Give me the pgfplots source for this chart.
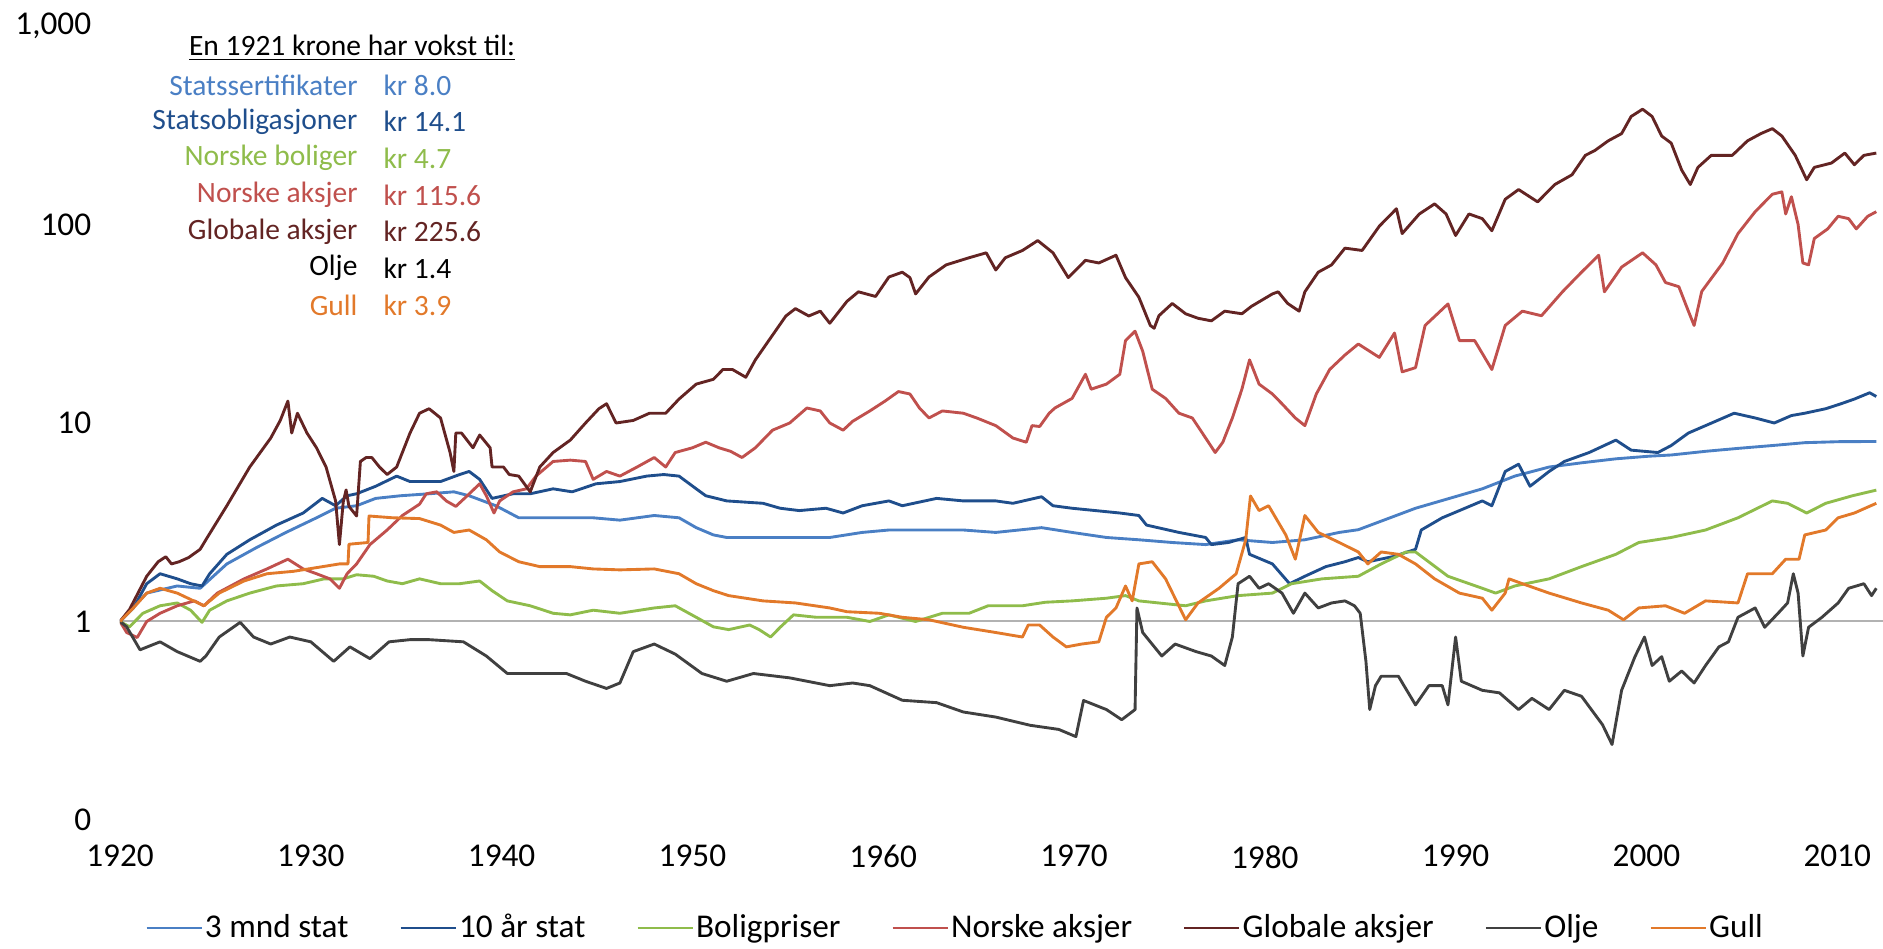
\documentclass[border=0pt]{standalone}
\usepackage{pgfplots}
\pgfplotsset{compat=1.18}
\usepackage{fontspec}
\setmainfont{Carlito}
\definecolor{cmnd}{HTML}{4A7FC4}
\definecolor{cobl}{HTML}{1F4E8C}
\definecolor{cbol}{HTML}{8FBC4B}
\definecolor{cnor}{HTML}{C0504D}
\definecolor{cglo}{HTML}{632423}
\definecolor{colj}{HTML}{404040}
\definecolor{cgul}{HTML}{E2792A}
\begin{document}
\begin{tikzpicture}
\begin{axis}[
  at={(0,0)}, anchor=south west,
  scale only axis, width=705.2pt, height=317.6pt,
  xmin=1920, xmax=2012.4, ymin=0.1, ymax=1000, ymode=log,
  axis line style={draw=none}, tick style={draw=none},
  xtick={1920,1930,1940,1950,1960,1970,1980,1990,2000,2010},
  xticklabels={1920,1930,1940,1950,1960,1970,1980,1990,2000,2010},
  ytick={0.1,1,10,100,1000},
  yticklabels={0,1,10,100,{1,000}},
  /pgf/number format/assume math mode=true,
  ticklabel style={font=\fontsize{13.3}{16}\selectfont},
  yticklabel style={xshift=-8pt},
  xticklabel style={yshift=-6.6pt},
  legend columns=7,
  legend style={at={(0.4736,-0.136)}, anchor=center, draw=none, fill=none,
    font=\fontsize{13.3}{16}\selectfont,
    nodes={inner xsep=0.8pt},
    /tikz/every even column/.append style={column sep=19.5pt}},
  legend image code/.code={\draw[#1] (0pt,0pt) -- (22pt,0pt);},
  every axis plot/.append style={line width=1.15pt, line join=round},
]
\addplot[gray!60, line width=0.8pt, forget plot] coordinates {(1920,1) (2012.4,1)};
% 3 mnd stat
\addplot[cmnd] coordinates {(1920,1) (1921.4,1.39) (1923.0,1.51) (1924.2,1.47) (1925.6,1.95) (1927.2,2.37) (1928.7,2.81) (1930.3,3.33) (1931.3,3.72) (1932.4,3.83) (1933.4,4.17) (1934.7,4.3) (1936.2,4.4) (1937.5,4.5) (1938.3,4.3) (1939.7,3.83) (1940.9,3.33) (1942.7,3.33) (1944.8,3.33) (1946.2,3.24) (1948.0,3.42) (1949.3,3.33) (1950.2,2.97) (1951.1,2.73) (1951.8,2.65) (1953.7,2.65) (1955.4,2.65) (1957.2,2.65) (1958.9,2.81) (1960.3,2.89) (1962.4,2.89) (1964.2,2.89) (1965.9,2.81) (1968.3,2.97) (1969.9,2.81) (1971.7,2.65) (1973.4,2.58) (1975.15,2.5) (1976.9,2.44) (1978.6,2.58) (1980.4,2.5) (1982.1,2.58) (1983.9,2.81) (1984.9,2.9) (1987.9,3.72) (1991.4,4.66) (1993.1,5.4) (1994.9,6.0) (1996.6,6.3) (1998.4,6.6) (2000.1,6.8) (2001.3,6.9) (2003.1,7.2) (2004.8,7.45) (2006.6,7.7) (2008.3,7.96) (2010.05,8.05) (2012.05,8.07)};
\addlegendentry{3 mnd stat}
% 10 aar stat
\addplot[cobl] coordinates {(1920,1) (1920.7,1.17) (1921.4,1.55) (1922.1,1.74) (1923.0,1.64) (1923.7,1.55) (1924.3,1.51) (1924.7,1.74) (1925.6,2.18) (1926.8,2.58) (1928.2,3.06) (1929.6,3.52) (1930.6,4.17) (1931.3,3.83) (1931.9,4.3) (1932.4,4.4) (1933.4,4.8) (1934.5,5.4) (1935.2,5.07) (1936.8,5.07) (1937.8,5.5) (1938.3,5.7) (1938.85,5.2) (1939.5,4.17) (1940.6,4.4) (1941.5,4.4) (1942.7,4.66) (1943.7,4.5) (1944.95,4.94) (1946.2,5.07) (1947.6,5.4) (1948.5,5.5) (1949.3,5.4) (1950.2,4.66) (1950.7,4.3) (1951.8,4.05) (1953.7,3.94) (1954.6,3.72) (1955.6,3.62) (1957.0,3.72) (1957.9,3.52) (1958.9,3.83) (1960.3,4.05) (1961.0,3.83) (1962.8,4.17) (1964.2,4.05) (1965.9,4.05) (1966.8,3.94) (1968.3,4.25) (1968.9,3.83) (1969.9,3.72) (1972.4,3.52) (1973.4,3.42) (1973.8,3.06) (1975.5,2.81) (1976.9,2.65) (1977.2,2.44) (1978.1,2.5) (1979.0,2.65) (1979.2,2.18) (1980.4,1.95) (1981.3,1.55) (1982.1,1.69) (1983.2,1.89) (1984.2,2.0) (1984.9,2.1) (1985.4,2.0) (1986.7,2.12) (1987.9,2.31) (1988.2,2.89) (1989.3,3.33) (1990.2,3.62) (1991.4,4.05) (1991.9,3.83) (1992.6,5.7) (1993.3,6.2) (1993.9,4.8) (1994.9,5.7) (1995.7,6.4) (1997.0,7.1) (1998.4,8.2) (1999.2,7.3) (2000.6,7.1) (2001.3,7.7) (2002.2,8.9) (2003.1,9.7) (2004.6,11.2) (2005.7,10.6) (2006.7,10) (2007.6,10.9) (2008.3,11.2) (2009.4,11.8) (2010.2,12.5) (2010.9,13.2) (2011.7,14.2) (2012.05,13.6)};
\addlegendentry{10 år stat}
% Boligpriser
\addplot[cbol] coordinates {(1920,1) (1920.5,0.94) (1921.2,1.1) (1922.1,1.2) (1923.0,1.24) (1923.7,1.14) (1924.3,0.99) (1924.7,1.14) (1925.6,1.27) (1926.8,1.39) (1928.2,1.51) (1929.6,1.55) (1930.7,1.64) (1931.7,1.64) (1932.4,1.72) (1933.3,1.69) (1934.0,1.6) (1934.8,1.55) (1935.7,1.64) (1936.8,1.55) (1937.8,1.55) (1938.85,1.6) (1939.5,1.43) (1940.3,1.27) (1941.5,1.2) (1942.7,1.1) (1943.6,1.08) (1944.8,1.14) (1946.2,1.1) (1948.0,1.17) (1949.1,1.2) (1950.2,1.05) (1951.1,0.94) (1951.9,0.91) (1953.0,0.96) (1953.5,0.91) (1954.1,0.835) (1954.6,0.935) (1955.3,1.08) (1956.5,1.05) (1958.1,1.05) (1959.3,1.0) (1960.3,1.08) (1961.7,1.0) (1963.1,1.1) (1964.5,1.1) (1965.5,1.2) (1967.3,1.2) (1968.5,1.25) (1969.9,1.27) (1971.7,1.31) (1972.7,1.35) (1973.4,1.27) (1975.85,1.2) (1976.9,1.27) (1978.6,1.35) (1980.4,1.39) (1981.4,1.55) (1983.0,1.64) (1984.9,1.69) (1986.1,1.95) (1987.4,2.24) (1987.9,2.24) (1989.6,1.69) (1991.4,1.47) (1992.1,1.39) (1993.1,1.51) (1994.9,1.64) (1996.6,1.89) (1998.4,2.18) (1999.6,2.5) (2001.3,2.65) (2003.1,2.89) (2004.8,3.33) (2006.6,4.05) (2007.4,3.94) (2008.4,3.52) (2009.4,3.94) (2010.8,4.3) (2012.05,4.59)};
\addlegendentry{Boligpriser}
% Norske aksjer
\addplot[cnor] coordinates {(1920,1) (1920.35,0.88) (1920.9,0.83) (1921.4,1.0) (1922.1,1.1) (1923.0,1.2) (1923.9,1.27) (1924.4,1.2) (1925.1,1.39) (1926.5,1.64) (1927.7,1.84) (1928.8,2.06) (1929.6,1.84) (1930.3,1.74) (1931.0,1.64) (1931.5,1.47) (1931.9,1.74) (1932.4,1.95) (1933.1,2.44) (1934.0,2.89) (1934.8,3.42) (1935.7,3.9) (1936.05,4.4) (1936.6,4.5) (1937.1,4.05) (1937.6,3.8) (1938.2,4.3) (1938.85,4.94) (1939.2,4.3) (1939.6,3.52) (1939.9,4.05) (1940.6,4.5) (1941.3,4.66) (1941.8,5.4) (1942.7,6.4) (1943.6,6.5) (1944.4,6.4) (1944.8,5.2) (1945.5,5.7) (1946.2,5.4) (1947.1,6.0) (1948.0,6.7) (1948.6,6.0) (1949.1,7.1) (1950.0,7.5) (1950.7,8.0) (1951.4,7.5) (1952.0,7.2) (1952.6,6.7) (1953.3,7.5) (1954.2,9.2) (1955.1,10) (1956.0,11.9) (1956.7,11.5) (1957.2,10) (1957.9,9.2) (1958.4,10.2) (1959.3,11.5) (1960.1,12.9) (1960.8,14.4) (1961.4,14) (1961.9,11.9) (1962.4,10.6) (1963.1,11.5) (1964.2,11.2) (1964.9,10.6) (1965.9,9.7) (1966.8,8.4) (1967.5,8.0) (1967.8,9.7) (1968.2,9.6) (1968.7,11.2) (1969.0,11.9) (1969.9,13.3) (1970.6,17.6) (1970.9,14.8) (1971.7,15.7) (1972.4,17.6) (1972.7,26) (1973.2,29) (1973.6,23) (1974.1,14.8) (1974.8,13.3) (1975.5,11.2) (1976.2,10.6) (1976.9,8.4) (1977.4,7.1) (1977.8,8.0) (1978.3,10.6) (1978.8,14.8) (1979.2,20.8) (1979.7,15.7) (1980.4,14) (1980.9,12.5) (1981.6,10.6) (1982.1,9.7) (1982.7,14) (1983.4,18.6) (1984.2,22) (1984.9,25) (1986.0,21.4) (1986.8,28.4) (1987.2,18.1) (1987.9,19) (1988.4,31) (1989.6,39.8) (1990.2,26) (1991.0,26) (1991.9,18.6) (1992.6,31) (1993.5,36.6) (1994.5,34.7) (1995.6,45.8) (1996.6,57.5) (1997.5,70) (1997.8,45.8) (1998.7,61) (1999.8,72) (2000.5,62.6) (2001.0,51) (2001.7,48.6) (2002.2,36.6) (2002.5,31) (2002.9,46) (2004.0,64) (2004.8,90) (2005.7,116) (2006.6,142) (2007.1,146) (2007.3,113) (2007.6,138) (2007.95,100) (2008.2,64) (2008.5,62.6) (2008.8,85) (2009.5,95) (2010.05,110) (2010.6,107) (2011.0,95) (2011.6,110) (2012.05,116)};
\addlegendentry{Norske aksjer}
% Globale aksjer
\addplot[cglo] coordinates {(1920.0,1) (1920.5,1.15) (1921.4,1.69) (1922.0,2.0) (1922.4,2.12) (1922.7,1.95) (1923.1,2.0) (1923.6,2.1) (1924.2,2.31) (1924.5,2.58) (1925.6,3.83) (1926.8,6.0) (1927.9,8.4) (1928.4,10.3) (1928.8,12.9) (1929.0,8.9) (1929.3,11.2) (1929.8,8.9) (1930.3,7.5) (1930.8,6.0) (1931.3,4.05) (1931.5,2.44) (1931.7,4.0) (1931.85,4.6) (1932.0,3.8) (1932.4,3.4) (1932.6,6.4) (1932.9,6.7) (1933.2,6.7) (1933.6,6.0) (1934.0,5.5) (1934.5,6.0) (1935.2,8.9) (1935.7,11.2) (1936.2,11.8) (1936.8,10.6) (1937.3,7.1) (1937.5,5.7) (1937.6,8.9) (1937.9,8.9) (1938.5,7.5) (1938.85,8.7) (1939.4,7.5) (1939.5,6.0) (1940.1,6.0) (1940.4,5.5) (1940.9,5.4) (1941.5,4.5) (1942.0,6.0) (1942.7,7.1) (1943.6,8.2) (1944.4,10) (1945.1,11.8) (1945.5,12.5) (1946.0,10) (1946.9,10.3) (1947.75,11.2) (1948.6,11.2) (1949.3,13.2) (1950.2,15.7) (1951.1,16.6) (1951.6,18.6) (1952.1,18.6) (1952.8,17) (1953.3,20.8) (1954.0,26) (1954.9,34.6) (1955.4,37.7) (1956.1,34.6) (1956.7,36.6) (1957.2,31.8) (1958.1,41) (1958.7,45.8) (1959.6,43.4) (1960.3,54.4) (1961.0,57.5) (1961.4,54) (1961.7,44.7) (1962.4,54.4) (1963.3,62.6) (1964.5,68) (1965.4,72) (1965.9,59) (1966.4,68) (1967.3,74) (1968.1,83) (1968.9,72) (1969.7,54) (1970.6,66) (1971.3,64) (1972.2,70) (1972.7,54) (1973.4,43) (1974.0,31) (1974.2,30) (1974.45,34.7) (1975.15,40) (1975.85,35.5) (1976.5,33.7) (1977.2,32.7) (1977.9,36.6) (1978.8,35.5) (1979.3,38.7) (1980.4,44.7) (1980.7,45.8) (1981.2,40) (1981.8,36.6) (1982.1,45.8) (1982.8,57.5) (1983.5,62.6) (1984.2,76) (1985.1,74) (1986.0,98) (1986.9,120) (1987.2,90) (1988.1,113) (1988.9,127) (1989.5,113) (1990.0,88) (1990.7,113) (1991.4,107) (1991.9,93) (1992.6,134) (1993.3,150) (1994.3,130) (1995.2,159) (1996.1,178) (1996.8,223) (1997.3,236) (1998.0,264) (1998.7,287) (1999.2,350) (1999.8,381) (2000.3,350) (2000.8,279) (2001.3,257) (2001.85,188) (2002.3,159) (2002.7,194) (2003.4,223) (2004.5,223) (2005.3,264) (2006.0,287) (2006.6,304) (2007.1,279) (2007.8,223) (2008.4,168) (2008.8,194) (2009.7,204) (2010.4,229) (2010.9,200) (2011.4,223) (2012.05,229)};
\addlegendentry{Globale aksjer}
% Olje
\addplot[colj] coordinates {(1920,1) (1920.35,0.94) (1921.05,0.72) (1922.1,0.79) (1923.0,0.705) (1924.2,0.63) (1924.5,0.67) (1925.2,0.835) (1926.3,0.99) (1927.0,0.835) (1927.9,0.77) (1928.9,0.835) (1930.0,0.79) (1931.2,0.63) (1932.05,0.745) (1933.1,0.65) (1934.1,0.79) (1935.2,0.81) (1936.2,0.81) (1938.0,0.79) (1939.2,0.67) (1940.3,0.547) (1941.8,0.547) (1943.4,0.547) (1944.4,0.5) (1945.5,0.46) (1946.2,0.49) (1946.9,0.705) (1948.0,0.77) (1949.1,0.685) (1950.5,0.547) (1951.8,0.5) (1953.2,0.547) (1955.1,0.52) (1957.2,0.475) (1958.4,0.49) (1959.3,0.475) (1961.0,0.401) (1962.8,0.39) (1964.2,0.35) (1965.9,0.33) (1967.7,0.30) (1969.2,0.286) (1970.1,0.263) (1970.5,0.40) (1971.7,0.36) (1972.5,0.32) (1973.2,0.36) (1973.3,1.17) (1973.6,0.88) (1974.6,0.67) (1975.3,0.77) (1976.4,0.705) (1977.2,0.67) (1977.9,0.6) (1978.3,0.835) (1978.6,1.55) (1979.2,1.69) (1979.7,1.47) (1980.2,1.55) (1980.9,1.39) (1981.5,1.1) (1982.1,1.39) (1982.8,1.17) (1983.5,1.24) (1984.2,1.27) (1984.7,1.2) (1985.0,1.1) (1985.3,0.63) (1985.5,0.36) (1985.8,0.475) (1986.1,0.53) (1987.0,0.53) (1987.9,0.38) (1988.6,0.475) (1989.3,0.475) (1989.6,0.38) (1990.0,0.835) (1990.3,0.5) (1991.4,0.45) (1992.3,0.437) (1993.3,0.36) (1994.0,0.41) (1994.9,0.36) (1995.7,0.45) (1996.6,0.42) (1997.7,0.302) (1998.2,0.24) (1998.7,0.45) (1999.4,0.665) (1999.9,0.835) (2000.3,0.6) (2000.8,0.665) (2001.2,0.5) (2001.85,0.563) (2002.5,0.49) (2003.1,0.6) (2003.8,0.745) (2004.3,0.79) (2004.8,1.05) (2005.7,1.17) (2006.2,0.935) (2006.9,1.1) (2007.4,1.24) (2007.7,1.74) (2007.95,1.39) (2008.2,0.67) (2008.5,0.935) (2009.2,1.05) (2010.05,1.24) (2010.6,1.47) (2011.4,1.55) (2011.8,1.35) (2012.05,1.47)};
\addlegendentry{Olje}
% Gull
\addplot[cgul] coordinates {(1920,1) (1920.7,1.17) (1921.4,1.39) (1922.1,1.47) (1923.0,1.39) (1924.4,1.2) (1925.2,1.39) (1926.5,1.6) (1927.7,1.74) (1929.1,1.79) (1931.5,1.95) (1931.95,1.95) (1932.0,2.45) (1933.0,2.5) (1933.05,3.4) (1934.3,3.33) (1935.7,3.3) (1936.8,3.06) (1937.5,2.81) (1938.3,2.89) (1939.2,2.58) (1939.9,2.24) (1940.9,2.0) (1942.0,1.89) (1943.6,1.89) (1944.8,1.84) (1946.2,1.82) (1948.0,1.84) (1949.3,1.74) (1950.2,1.55) (1951.1,1.43) (1951.9,1.35) (1953.7,1.27) (1955.4,1.24) (1957.2,1.17) (1958.1,1.12) (1959.8,1.1) (1961.0,1.05) (1962.4,1.02) (1964.2,0.935) (1965.9,0.88) (1967.3,0.835) (1967.6,0.96) (1968.2,0.96) (1968.9,0.835) (1969.6,0.745) (1970.4,0.77) (1971.3,0.79) (1971.7,1.05) (1972.2,1.17) (1972.7,1.51) (1973.05,1.27) (1973.4,1.95) (1974.1,2.0) (1974.8,1.64) (1975.85,1.02) (1976.5,1.24) (1977.6,1.47) (1978.5,1.74) (1979.0,2.58) (1979.25,4.29) (1979.7,3.62) (1980.2,3.83) (1981.1,2.73) (1981.6,2.06) (1982.1,3.42) (1982.8,2.81) (1983.9,2.5) (1984.9,2.24) (1985.4,1.95) (1986.1,2.24) (1987.0,2.18) (1987.9,1.95) (1988.9,1.64) (1990.2,1.39) (1991.4,1.31) (1991.9,1.14) (1992.6,1.39) (1992.8,1.64) (1993.5,1.55) (1994.9,1.39) (1996.6,1.24) (1998.0,1.14) (1998.8,1.02) (1999.6,1.17) (2001.0,1.2) (2002.0,1.1) (2003.1,1.27) (2004.8,1.24) (2005.3,1.74) (2006.6,1.74) (2007.3,2.06) (2008.0,2.06) (2008.3,2.73) (2009.4,2.89) (2010.05,3.33) (2010.9,3.52) (2012.05,3.94)};
\addlegendentry{Gull}
\end{axis}
\begin{scope}[font=\fontsize{11.8}{14}\selectfont, every node/.style={inner sep=0pt}]
\node[anchor=center] at (92.8pt,308.7pt) {\underline{En 1921 krone har vokst til:}};
\node[anchor=east, text=cmnd] at (95.2pt,294.0pt) {Statssertifikater};
\node[anchor=west, text=cmnd] at (105.2pt,294.0pt) {kr 8.0};
\node[anchor=east, text=cobl] at (95.2pt,279.3pt) {Statsobligasjoner};
\node[anchor=west, text=cobl] at (105.2pt,279.3pt) {kr 14.1};
\node[anchor=east, text=cbol] at (95.2pt,264.7pt) {Norske boliger};
\node[anchor=west, text=cbol] at (105.2pt,264.7pt) {kr 4.7};
\node[anchor=east, text=cnor] at (95.2pt,250.0pt) {Norske aksjer};
\node[anchor=west, text=cnor] at (105.2pt,250.0pt) {kr 115.6};
\node[anchor=east, text=cglo] at (95.2pt,235.3pt) {Globale aksjer};
\node[anchor=west, text=cglo] at (105.2pt,235.3pt) {kr 225.6};
\node[anchor=east, text=black] at (95.2pt,220.7pt) {Olje};
\node[anchor=west, text=black] at (105.2pt,220.7pt) {kr 1.4};
\node[anchor=east, text=cgul] at (95.2pt,206.0pt) {Gull};
\node[anchor=west, text=cgul] at (105.2pt,206.0pt) {kr 3.9};
\end{scope}
\pgfresetboundingbox
\path[use as bounding box] (-48pt,-51.6pt) rectangle (705.2pt,328pt);
\end{tikzpicture}
\end{document}
